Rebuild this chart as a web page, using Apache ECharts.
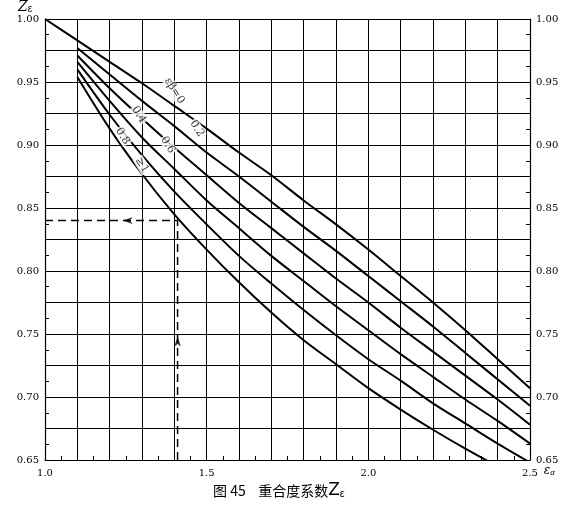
<!DOCTYPE html>
<html><head><meta charset="utf-8">
<script src="https://cdn.jsdelivr.net/npm/echarts@6/dist/echarts.min.js"></script>
<style>html,body{margin:0;background:#fff}#c{width:580px;height:515px}</style>
</head><body><div id="c"></div>
<script>
var chart = echarts.init(document.getElementById('c'));

// εα values
var ea = [1.0, 1.1, 1.2, 1.3, 1.4, 1.5, 1.6, 1.7, 1.8, 1.9, 2.0, 2.1, 2.2, 2.3, 2.4, 2.5];
// Zε, one list per εβ
var z00 = [1.000, 0.983, 0.966, 0.949, 0.931, 0.913, 0.894, 0.876, 0.856, 0.837, 0.817, 0.796, 0.775, 0.753, 0.730, 0.707];
var z02 = [null, 0.977, 0.956, 0.935, 0.915, 0.894, 0.875, 0.855, 0.835, 0.816, 0.796, 0.776, 0.756, 0.735, 0.714, 0.693];
var z04 = [null, 0.971, 0.945, 0.921, 0.898, 0.876, 0.854, 0.834, 0.814, 0.794, 0.775, 0.755, 0.736, 0.717, 0.698, 0.678];
var z06 = [null, 0.966, 0.935, 0.906, 0.881, 0.856, 0.834, 0.812, 0.792, 0.772, 0.753, 0.734, 0.716, 0.698, 0.681, 0.663];
var z08 = [null, 0.960, 0.924, 0.892, 0.863, 0.837, 0.812, 0.790, 0.769, 0.749, 0.730, 0.713, 0.695, 0.679, 0.663, 0.648];
var z10 = [null, 0.954, 0.913, 0.877, 0.845, 0.817, 0.791, 0.767, 0.745, 0.726, 0.707, 0.690, 0.674, 0.659, 0.645, 0.632];
var curveNames = ['0', '0.2', '0.4', '0.6', '0.8', '≥1'];
var curves = [z00, z02, z04, z06, z08, z10];

// label anchor points [εα, Zε, text]
var labelPts = [[1.40, 0.943, 'εβ=0'], [1.47, 0.913, '0.2'], [1.29, 0.924, '0.4'], [1.38, 0.900, '0.6'], [1.24, 0.907, '0.8'], [1.30, 0.884, '≥1']];
// worked example: read-off εα and Zε
var exX = 1.41, exY = 0.84;

function pairs(ys) {
  var out = [];
  for (var i = 0; i < ea.length; i++) if (ys[i] != null) out.push([ea[i], ys[i]]);
  return out;
}

var series = curves.map(function (c, i) {
  return {
    type: 'line', name: curveNames[i], data: pairs(c), smooth: 0.3, symbol: 'none',
    lineStyle: { color: '#000', width: 2 }, z: 3
  };
});

series.push({
  type: 'line', data: [[1.0, exY], [exX, exY], [exX, 0.65]], symbol: 'none',
  lineStyle: { color: '#000', width: 1.5, type: [8, 5] }, z: 2
});
series.push({
  type: 'scatter', data: [[1.24, exY, 'left'], [exX, 0.748, 'up']], symbol: 'arrow', symbolSize: [5, 10],
  symbolRotate: function (v) { return v[2] === 'left' ? 90 : 0; },
  itemStyle: { color: '#000' }, z: 4
});
series.push({
  type: 'scatter', symbolSize: 0, z: 5,
  data: labelPts.map(function (p) { return { value: [p[0], p[1]], name: p[2] }; }),
  label: {
    show: true, position: 'inside', formatter: '{b}', rotate: -58, color: '#000',
    fontFamily: 'DejaVu Serif', fontSize: 11, backgroundColor: '#fff', padding: [0, 1]
  }
});

var axisLineStyle = { color: '#000', width: 1.2 };
function yAx(pos) {
  return {
    type: 'value', position: pos, min: 0.65, max: 1.0, interval: 0.025,
    axisLine: { show: true, lineStyle: axisLineStyle },
    axisTick: { show: true, inside: true, length: 5, lineStyle: { color: '#000' } },
    minorTick: { show: true, splitNumber: 2, length: 4, lineStyle: { color: '#000' } },
    splitLine: { show: pos === 'left', lineStyle: { color: '#000', width: 1 } },
    axisLabel: {
      color: '#000', fontFamily: 'DejaVu Serif', fontSize: 10, margin: 6,
      formatter: function (v) { return Math.round(v * 1000) % 50 === 0 ? v.toFixed(2) : ''; }
    }
  };
}

chart.setOption({
  backgroundColor: '#fff',
  animation: false,
  grid: { left: 45, right: 50, top: 19, bottom: 55 },
  xAxis: {
    type: 'value', min: 1.0, max: 2.5, interval: 0.1,
    name: '{i|ε}{s|α}', nameLocation: 'end', nameGap: 12,
    nameTextStyle: { rich: { i: { fontStyle: 'italic', fontSize: 12, fontFamily: 'DejaVu Serif' }, s: { fontSize: 8, verticalAlign: 'bottom', fontStyle: 'italic' } }, color: '#000', padding: [22, 0, 0, 0] },
    axisLine: { lineStyle: axisLineStyle },
    axisTick: { show: true, inside: true, length: 5, lineStyle: { color: '#000' } },
    minorTick: { show: true, splitNumber: 2, length: 4, lineStyle: { color: '#000' } },
    splitLine: { show: true, lineStyle: { color: '#000', width: 1 } },
    axisLabel: {
      color: '#000', fontFamily: 'DejaVu Serif', fontSize: 10,
      formatter: function (v) { return Math.round(v * 10) % 5 === 0 ? v.toFixed(1) : ''; }
    }
  },
  yAxis: [yAx('left'), yAx('right')],
  graphic: [
    { type: 'text', left: 18, top: 0, style: { text: '{i|Z}{s|ε}', rich: { i: { fontStyle: 'italic', fontSize: 14, fontFamily: 'DejaVu Serif' }, s: { fontSize: 10, verticalAlign: 'bottom' } }, fill: '#000' } },
    { type: 'text', left: 213, top: 482, style: { text: '图 45    重合度系数{z|Z}{s|ε}', font: '14px "Noto Sans CJK SC"', fill: '#000', rich: { z: { fontSize: 17, fontFamily: 'DejaVu Sans' }, s: { fontSize: 11, verticalAlign: 'bottom' } } } }
  ],
  series: series
});
</script></body></html>
